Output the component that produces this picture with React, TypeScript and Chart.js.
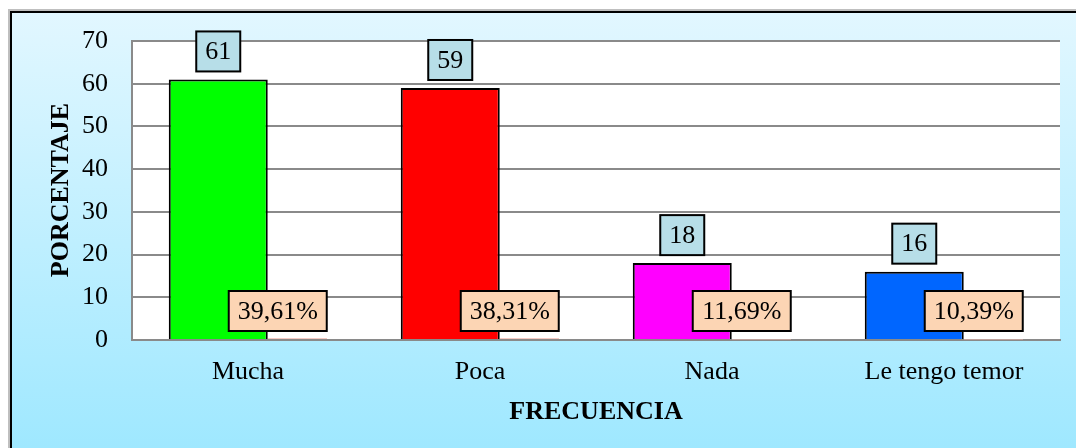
import React, { useEffect, useRef } from "react";
import { Chart, registerables } from "chart.js";

Chart.register(...registerables);

const categories = ["Mucha", "Poca", "Nada", "Le tengo temor"];
const counts = [61, 59, 18, 16];
const percents = [39.61, 38.31, 11.69, 10.39];
const percentLabels = ["39,61%", "38,31%", "11,69%", "10,39%"];
const barColors = ["#00ff00", "#ff0000", "#ff00ff", "#0066ff"];
const yTicks = [0, 10, 20, 30, 40, 50, 60, 70];
const yTitle = "PORCENTAJE";
const xTitle = "FRECUENCIA";

const FONT = "'Liberation Serif', 'Times New Roman', serif";

const framePlugin = {
  id: "frame",
  beforeDraw(chart: any) {
    const { ctx, width, height, chartArea } = chart;
    ctx.save();
    ctx.fillStyle = "#ffffff";
    ctx.fillRect(0, 0, width, height);
    const g = ctx.createLinearGradient(0, 11, 0, height);
    g.addColorStop(0, "#e2f7ff");
    g.addColorStop(1, "#9fe8ff");
    ctx.fillStyle = g;
    ctx.fillRect(10, 11, width, height);
    ctx.strokeStyle = "rgba(0,0,0,0.25)";
    ctx.lineWidth = 2;
    ctx.beginPath();
    ctx.moveTo(9, height + 5);
    ctx.lineTo(9, 10);
    ctx.lineTo(width + 5, 10);
    ctx.stroke();
    ctx.strokeStyle = "#000000";
    ctx.lineWidth = 2;
    ctx.beginPath();
    ctx.moveTo(11, height + 5);
    ctx.lineTo(11, 12);
    ctx.lineTo(width + 5, 12);
    ctx.stroke();
    ctx.fillStyle = "#ffffff";
    ctx.fillRect(
      chartArea.left,
      chartArea.top,
      chartArea.right - chartArea.left,
      chartArea.bottom - chartArea.top
    );
    ctx.restore();
  },
};

function box(ctx: any, cx: number, cy: number, w: number, h: number, fill: string, text: string) {
  ctx.fillStyle = fill;
  ctx.fillRect(cx - w / 2, cy - h / 2, w, h);
  ctx.strokeStyle = "#000000";
  ctx.lineWidth = 2;
  ctx.strokeRect(cx - w / 2, cy - h / 2, w, h);
  ctx.fillStyle = "#000000";
  ctx.textAlign = "center";
  ctx.textBaseline = "middle";
  ctx.fillText(text, cx, cy + 1);
}

const labelPlugin = {
  id: "labels",
  afterDraw(chart: any) {
    const { ctx, chartArea } = chart;
    ctx.save();
    ctx.font = `26px ${FONT}`;
    const m0 = chart.getDatasetMeta(0);
    m0.data.forEach((bar: any, i: number) => {
      const w = bar.width;
      const cx = bar.x;
      box(ctx, cx, bar.y - 8 - 20, 44, 40, "#b7dee8", String(counts[i]));
      box(ctx, cx + w / 2 + 10, chartArea.bottom - 9 - 20, 98, 40, "#fcd5b4", percentLabels[i]);
    });
    ctx.font = `bold 26px ${FONT}`;
    ctx.fillStyle = "#000000";
    ctx.textAlign = "center";
    ctx.textBaseline = "middle";
    ctx.fillText(xTitle, (chartArea.left + chartArea.right) / 2, 412);
    ctx.translate(61, 190);
    ctx.rotate(-Math.PI / 2);
    ctx.fillText(yTitle, 0, 0);
    ctx.restore();
  },
};

export default function App() {
  const ref = useRef<HTMLCanvasElement | null>(null);
  useEffect(() => {
    if (!ref.current) return;
    const chart = new Chart(ref.current, {
      type: "bar",
      data: {
        labels: categories,
        datasets: [
          {
            data: counts,
            backgroundColor: barColors,
            borderColor: "#000000",
            borderWidth: 2,
            categoryPercentage: 119 / 232,
            barPercentage: 99 / 59.5,
          },
          {
            data: percents.map((p) => p / 100),
            backgroundColor: "#f2b9b0",
            borderWidth: 0,
            categoryPercentage: 198 / 232,
            barPercentage: 59 / 99,
          },
        ],
      },
      options: {
        animation: false,
        responsive: false,
        maintainAspectRatio: false,
        layout: { padding: { top: 41, right: 16, left: 0, bottom: 0 } },
        plugins: {
          legend: { display: false },
          tooltip: { enabled: false },
        },
        scales: {
          x: {
            afterFit: (s: any) => {
              s.height = 108;
            },
            grid: { display: false, drawTicks: false },
            border: { display: true, color: "#8a8a8a", width: 2 },
            ticks: {
              color: "#000000",
              font: { family: FONT, size: 26 },
              padding: 17,
              maxRotation: 0,
              autoSkip: false,
            },
          },
          y: {
            min: 0,
            max: 70,
            afterFit: (s: any) => {
              s.width = 132;
            },
            afterBuildTicks: (s: any) => {
              s.ticks = yTicks.map((v) => ({ value: v }));
            },
            grid: { color: "#8a8a8a", lineWidth: 2, drawTicks: false },
            border: { display: true, color: "#8a8a8a", width: 2 },
            ticks: {
              color: "#000000",
              font: { family: FONT, size: 26 },
              padding: 24,
            },
          },
        },
      },
      plugins: [framePlugin, labelPlugin],
    });
    return () => chart.destroy();
  }, []);
  return (
    <div style={{ position: "absolute", left: 0, top: 0, width: 1076, height: 448, overflow: "hidden" }}>
      <canvas ref={ref} width={1076} height={448} style={{ display: "block" }} />
    </div>
  );
}
